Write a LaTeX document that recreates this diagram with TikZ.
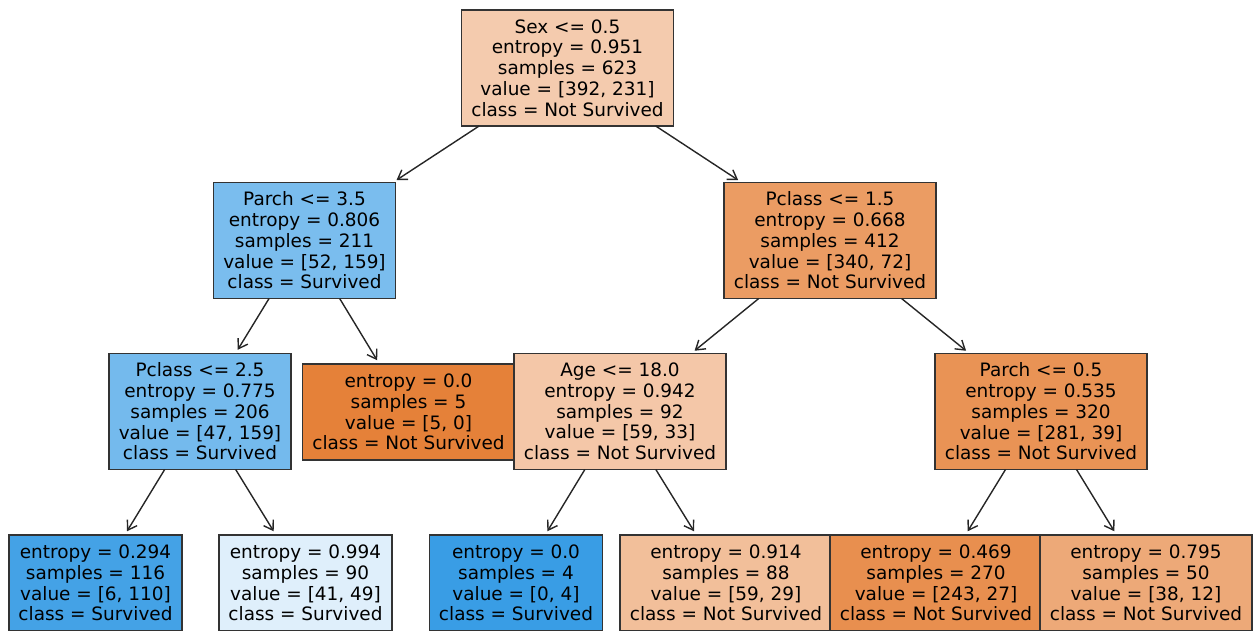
\documentclass[tikz,border=0pt]{standalone}
\usepackage{fontspec}
\setsansfont{DejaVu Sans}
\usetikzlibrary{arrows.meta}
\definecolor{cn0}{HTML}{F4CBAE}
\definecolor{cn1}{HTML}{7ABDEE}
\definecolor{cn2}{HTML}{74BAED}
\definecolor{cn3}{HTML}{44A2E6}
\definecolor{cn4}{HTML}{DFEFFB}
\definecolor{cn5}{HTML}{E58139}
\definecolor{cn6}{HTML}{EB9C63}
\definecolor{cn7}{HTML}{F4C7A8}
\definecolor{cn8}{HTML}{399DE5}
\definecolor{cn9}{HTML}{F2BF9A}
\definecolor{cn10}{HTML}{E99355}
\definecolor{cn11}{HTML}{E88F4F}
\definecolor{cn12}{HTML}{EDA978}
\tikzset{
  every picture/.style={font=\sffamily\fontsize{10.5}{11.8}\selectfont},
  split/.style={draw=black!80, fill=#1, line width=0.85pt, align=center, inner xsep=5.5pt, inner ysep=0pt, minimum height=2.32cm, outer sep=0pt},
  leaf/.style={split=#1, minimum height=1.92cm},
  arrow/.style={-{Straight Barb[length=5pt,width=6.5pt]}, draw=black!85, line width=0.8pt, shorten >=2.5pt},
}
\begin{document}
\begin{tikzpicture}
  \clip (0,0) rectangle (25.06,-12.6);
  \node[split=cn0] (root) at (11.35,-1.36) {Sex <= 0.5\\entropy = 0.951\\samples = 623\\value = [392, 231]\\class = Not Survived};
  % left branch
  \node[split=cn1] (parchA) at (6.09,-4.81) {Parch <= 3.5\\entropy = 0.806\\samples = 211\\value = [52, 159]\\class = Survived};
  \node[split=cn2] (pclassB) at (4.0,-8.23) {Pclass <= 2.5\\entropy = 0.775\\samples = 206\\value = [47, 159]\\class = Survived};
  \node[leaf=cn3] (l3) at (1.91,-11.66) {entropy = 0.294\\samples = 116\\value = [6, 110]\\class = Survived};
  \node[leaf=cn4] (l4) at (6.11,-11.66) {entropy = 0.994\\samples = 90\\value = [41, 49]\\class = Survived};
  \node[leaf=cn5] (l5) at (8.17,-8.24) {entropy = 0.0\\samples = 5\\value = [5, 0]\\class = Not Survived};
  % right branch
  \node[split=cn6] (pclassA) at (16.6,-4.81) {Pclass <= 1.5\\entropy = 0.668\\samples = 412\\value = [340, 72]\\class = Not Survived};
  \node[split=cn7] (age) at (12.4,-8.23) {Age <= 18.0\\entropy = 0.942\\samples = 92\\value = [59, 33]\\class = Not Survived};
  \node[leaf=cn8] (l8) at (10.32,-11.66) {entropy = 0.0\\samples = 4\\value = [0, 4]\\class = Survived};
  \node[leaf=cn9] (l9) at (14.52,-11.66) {entropy = 0.914\\samples = 88\\value = [59, 29]\\class = Not Survived};
  \node[split=cn10] (parchB) at (20.82,-8.23) {Parch <= 0.5\\entropy = 0.535\\samples = 320\\value = [281, 39]\\class = Not Survived};
  \node[leaf=cn11] (l11) at (18.72,-11.66) {entropy = 0.469\\samples = 270\\value = [243, 27]\\class = Not Survived};
  \node[leaf=cn12] (l12) at (22.92,-11.66) {entropy = 0.795\\samples = 50\\value = [38, 12]\\class = Not Survived};
  % edges
  \draw[arrow] (root) -- (parchA); \draw[arrow] (root) -- (pclassA);
  \draw[arrow] (parchA) -- (pclassB); \draw[arrow] (parchA) -- (l5);
  \draw[arrow] (pclassB) -- (l3); \draw[arrow] (pclassB) -- (l4);
  \draw[arrow] (pclassA) -- (age); \draw[arrow] (pclassA) -- (parchB);
  \draw[arrow] (age) -- (l8); \draw[arrow] (age) -- (l9);
  \draw[arrow] (parchB) -- (l11); \draw[arrow] (parchB) -- (l12);
\end{tikzpicture}
\end{document}
